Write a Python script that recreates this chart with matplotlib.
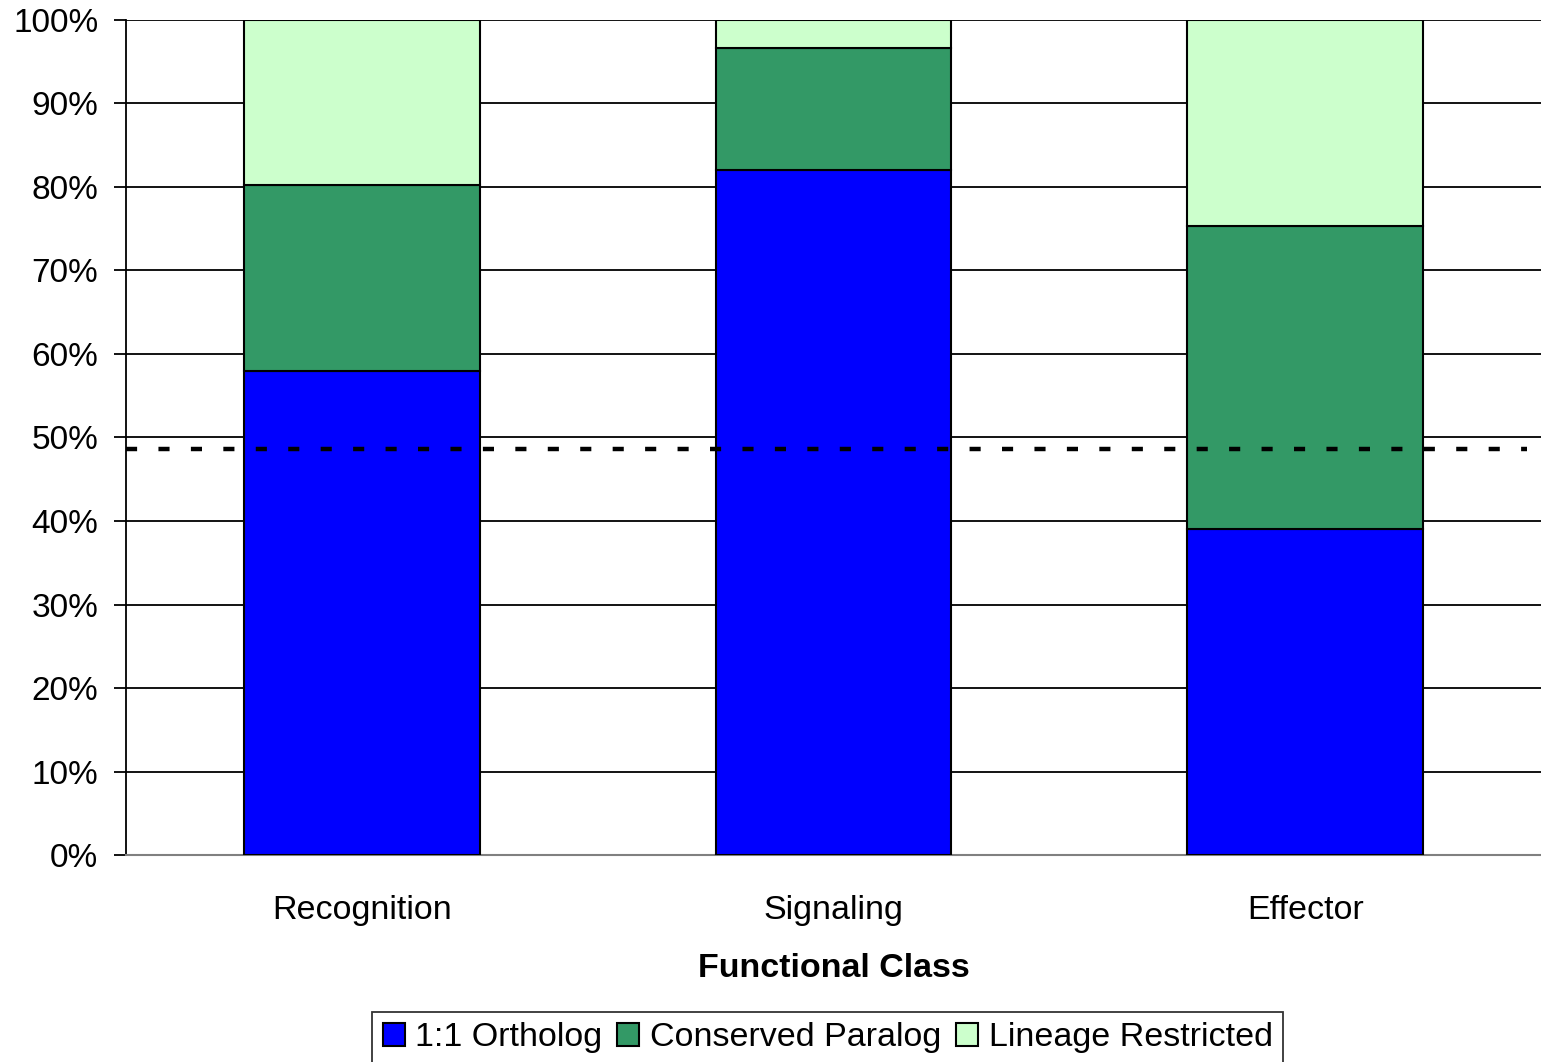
import numpy as np
import matplotlib
matplotlib.use("Agg")
import matplotlib.pyplot as plt

plt.rcParams["font.family"] = ["Liberation Sans", "DejaVu Sans"]

# share of genes per functional class (percent)
classes = ["Recognition", "Signaling", "Effector"]
ortholog = [58.0, 82.0, 39.0]
paralog = [22.2, 14.7, 36.3]
lineage = [19.8, 3.3, 24.7]
genome_avg = 48.6  # dashed reference line

series = ["1:1 Ortholog", "Conserved Paralog", "Lineage Restricted"]
colors = ["#0000FF", "#339966", "#CCFFCC"]

fig = plt.figure(figsize=(15.41, 10.62), dpi=100)
ax = fig.add_axes([0.0818, 0.1949, 0.9182, 0.7863])

x = np.arange(len(classes))
bottom = np.zeros(len(classes))
for vals, col, lab in zip([ortholog, paralog, lineage], colors, series):
    ax.bar(x, vals, width=0.5, bottom=bottom, color=col, edgecolor="black",
           linewidth=1.5, label=lab, zorder=3)
    bottom += np.array(vals)

ax.plot([-0.5, 2.47], [genome_avg, genome_avg], color="black", lw=3.2,
        dashes=(2.5, 4.8), zorder=4)

ax.set_xlim(-0.5, 2.5)
ax.set_ylim(0, 100)
ax.set_yticks(np.arange(0, 101, 10))
ax.set_yticklabels([f"{v}%" for v in range(0, 101, 10)])
ax.yaxis.grid(True, color="black", lw=1.3, zorder=0)
ax.set_axisbelow(True)

ax.set_xticks(x)
ax.set_xticklabels(classes)
ax.tick_params(axis="x", length=0, pad=29, labelsize=24.5)
ax.tick_params(axis="y", length=9, width=1.3, labelsize=24, pad=11)
ax.set_xlabel("Functional Class", fontsize=24.5, fontweight="bold", labelpad=19)

for s in ["top", "right"]:
    ax.spines[s].set_visible(False)
ax.spines["left"].set_linewidth(1.3)
ax.spines["bottom"].set_color("#808080")
ax.spines["bottom"].set_linewidth(1.5)

leg = fig.legend(loc="upper center", bbox_to_anchor=(0.537, 0.047), ncol=3,
                 fontsize=24.5, frameon=True, fancybox=False, edgecolor="black",
                 handlelength=0.65, handleheight=0.65, handletextpad=0.3,
                 columnspacing=0.45, borderpad=0.3, borderaxespad=0)
leg.get_frame().set_linewidth(1.3)

fig.savefig("out.png", dpi=100)
